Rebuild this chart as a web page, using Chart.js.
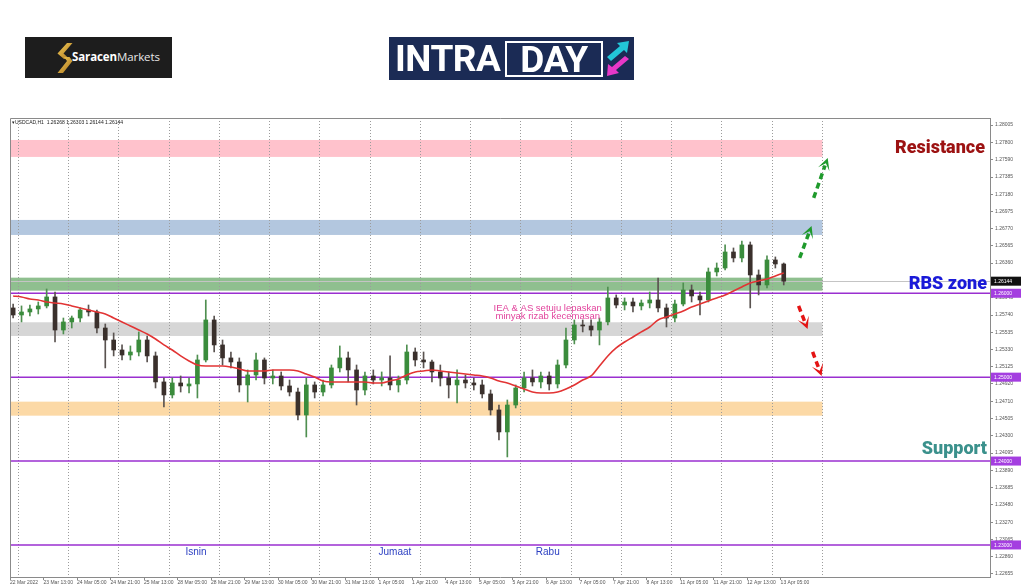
<!DOCTYPE html>
<html><head><meta charset="utf-8">
<script src="https://cdn.jsdelivr.net/npm/chart.js@4.4.0/dist/chart.umd.min.js"></script>
<style>
html,body{margin:0;padding:0;background:#fff;}
#wrap{position:relative;width:1024px;height:587px;overflow:hidden;}
#c{position:absolute;left:0;top:0;}
#saracen{position:absolute;left:25px;top:37px;width:147px;height:41px;background:#1d1d1d;}
#saracen .t{position:absolute;left:47px;top:12px;font:700 11.5px "Open Sans",sans-serif;color:#fff;letter-spacing:-0.1px;}
#saracen .t span{font-weight:400;color:#e8e8e8;}
#saracen svg{position:absolute;left:32px;top:6px;}
#intra{position:absolute;left:389px;top:37px;width:245px;height:43px;background:#1b2b55;}
#intra .a{position:absolute;left:6px;top:1px;font:700 37px Roboto,sans-serif;color:#fff;letter-spacing:-0.5px;line-height:41px;}
#intra .b{position:absolute;left:116px;top:4px;width:94px;height:32px;border:2px solid #fff;box-sizing:content-box;font:700 37px Roboto,sans-serif;color:#fff;line-height:33px;text-align:center;letter-spacing:-0.5px;}
#intra svg{position:absolute;left:215px;top:3px;}
</style></head><body>
<div id="wrap">
<canvas id="c" width="1024" height="587"></canvas>
<div id="saracen">
 <svg width="16" height="30" viewBox="0 0 16 30"><defs><linearGradient id="gg" x1="0" y1="0" x2="1" y2="1"><stop offset="0" stop-color="#f6cf5a"/><stop offset="1" stop-color="#a9731c"/></linearGradient></defs>
 <path d="M10 0 L15.5 0 L6.5 10.5 L12.5 16 L7 16 L0.5 10.5 Z" fill="url(#gg)"/>
 <path d="M7 14 L12.5 14 L15.5 18 L6 30 L0.5 30 L10 18 Z" fill="url(#gg)"/></svg>
 <div class="t">Saracen<span>Markets</span></div>
</div>
<div id="intra">
 <div class="a">INTRA</div>
 <div class="b">DAY</div>
 <svg width="28" height="38" viewBox="0 0 28 38">
  <path d="M3 17 L16 6 L13 3 L25 1 L23 13 L20 10 L7 21 Z" fill="#22c6d8"/>
  <path d="M25 19 L12 30 L15 33 L3 36 L4 24 L8 27 L21 16 Z" fill="#e838c8"/>
 </svg>
</div>
</div>
<script>
// ---------------- data ----------------
const xLabels = ['22 Mar 2022','23 Mar 13:00','24 Mar 05:00','24 Mar 21:00','25 Mar 13:00','28 Mar 05:00','28 Mar 21:00','29 Mar 13:00','30 Mar 05:00','30 Mar 21:00','31 Mar 13:00','1 Apr 05:00','1 Apr 21:00','4 Apr 13:00','5 Apr 05:00','5 Apr 21:00','6 Apr 13:00','7 Apr 05:00','7 Apr 21:00','8 Apr 13:00','11 Apr 05:00','11 Apr 21:00','12 Apr 13:00','13 Apr 05:00'];
const yTicks = [1.28005,1.27800,1.27590,1.27385,1.27180,1.26975,1.26770,1.26565,1.26360,1.26150,1.25945,1.25740,1.25535,1.25330,1.25125,1.24920,1.24710,1.24505,1.24300,1.24095,1.23890,1.23685,1.23480,1.23270,1.23065,1.22860,1.22655];

// 4-hour candles
const openP  = [1.25825,1.25741,1.25777,1.25813,1.25849,1.25956,1.25562,1.25658,1.25705,1.25801,1.25777,1.25586,1.25443,1.25324,1.25264,1.25300,1.25443,1.25253,1.24943,1.24788,1.24931,1.24895,1.24919,1.25205,1.25682,1.25384,1.25229,1.25181,1.24907,1.25026,1.25205,1.24990,1.25014,1.24895,1.24823,1.24549,1.24907,1.24823,1.24907,1.25110,1.25229,1.25086,1.24847,1.25014,1.24966,1.24990,1.24907,1.24966,1.25300,1.25205,1.25181,1.25062,1.24990,1.24907,1.24966,1.24931,1.24907,1.24800,1.24609,1.24347,1.24668,1.24871,1.24990,1.24943,1.25014,1.24919,1.25145,1.25443,1.25622,1.25610,1.25562,1.25658,1.25944,1.25860,1.25896,1.25849,1.25884,1.25920,1.25825,1.25705,1.25872,1.26039,1.25968,1.25920,1.26254,1.26301,1.26492,1.26421,1.26576,1.26218,1.26099,1.26397,1.26349];
const highP  = [1.25872,1.25849,1.25860,1.25896,1.26051,1.26015,1.25705,1.25729,1.25825,1.25860,1.25801,1.25634,1.25527,1.25384,1.25372,1.25539,1.25491,1.25300,1.24990,1.24990,1.25014,1.24990,1.25264,1.25920,1.25729,1.25443,1.25300,1.25229,1.25086,1.25288,1.25229,1.25086,1.25062,1.24966,1.24871,1.24990,1.24943,1.24966,1.25145,1.25372,1.25300,1.25145,1.25062,1.25086,1.25062,1.25253,1.25014,1.25384,1.25348,1.25300,1.25205,1.25145,1.25062,1.25086,1.25026,1.24990,1.24966,1.24847,1.24668,1.24728,1.24907,1.25062,1.25086,1.25062,1.25062,1.25205,1.25586,1.25682,1.25682,1.25682,1.25705,1.26075,1.25980,1.25944,1.25944,1.25920,1.26015,1.26182,1.25872,1.25920,1.26123,1.26099,1.26015,1.26301,1.26361,1.26576,1.26540,1.26623,1.26611,1.26278,1.26445,1.26433,1.26361];
const lowP   = [1.25705,1.25658,1.25729,1.25753,1.25825,1.25419,1.25515,1.25586,1.25658,1.25729,1.25527,1.25110,1.25253,1.25205,1.25205,1.25253,1.25181,1.24871,1.24645,1.24752,1.24823,1.24811,1.24752,1.25181,1.25300,1.25145,1.25110,1.24823,1.24704,1.24966,1.24919,1.24919,1.24847,1.24776,1.24490,1.24287,1.24752,1.24776,1.24871,1.25062,1.24943,1.24668,1.24788,1.24919,1.24895,1.24847,1.24823,1.24919,1.25133,1.25110,1.24943,1.24895,1.24752,1.24692,1.24871,1.24847,1.24752,1.24549,1.24251,1.24049,1.24633,1.24823,1.24895,1.24871,1.24847,1.24871,1.25110,1.25396,1.25539,1.25491,1.25384,1.25622,1.25825,1.25801,1.25777,1.25801,1.25825,1.25777,1.25598,1.25658,1.25849,1.25896,1.25741,1.25896,1.26206,1.26278,1.26373,1.26373,1.25825,1.25980,1.26063,1.26301,1.26099];
const closeP = [1.25741,1.25777,1.25813,1.25849,1.25956,1.25562,1.25658,1.25705,1.25801,1.25777,1.25586,1.25443,1.25324,1.25264,1.25300,1.25443,1.25253,1.24943,1.24788,1.24931,1.24895,1.24919,1.25205,1.25682,1.25384,1.25229,1.25181,1.24907,1.25026,1.25205,1.24990,1.25014,1.24895,1.24823,1.24549,1.24907,1.24823,1.24907,1.25110,1.25229,1.25086,1.24847,1.25014,1.24966,1.24990,1.24907,1.24966,1.25300,1.25205,1.25181,1.25062,1.24990,1.24907,1.24966,1.24931,1.24907,1.24800,1.24609,1.24347,1.24668,1.24871,1.24990,1.24943,1.25014,1.24919,1.25145,1.25443,1.25622,1.25610,1.25562,1.25658,1.25944,1.25860,1.25896,1.25849,1.25884,1.25920,1.25825,1.25705,1.25872,1.26039,1.25968,1.25920,1.26254,1.26301,1.26492,1.26421,1.26576,1.26218,1.26099,1.26397,1.26349,1.26144];
const maP    = [1.25968,1.25956,1.25932,1.25920,1.25896,1.25884,1.25872,1.25849,1.25825,1.25801,1.25777,1.25753,1.25705,1.25658,1.25610,1.25562,1.25515,1.25455,1.25384,1.25324,1.25253,1.25193,1.25145,1.25133,1.25133,1.25133,1.25121,1.25098,1.25074,1.25074,1.25074,1.25086,1.25086,1.25086,1.25074,1.25038,1.25002,1.24955,1.24943,1.24943,1.24943,1.24943,1.24943,1.24931,1.24931,1.24955,1.24979,1.25026,1.25062,1.25074,1.25086,1.25074,1.25062,1.25050,1.25038,1.25026,1.25014,1.24990,1.24955,1.24931,1.24895,1.24859,1.24823,1.24811,1.24811,1.24823,1.24859,1.24907,1.24966,1.25014,1.25133,1.25253,1.25348,1.25419,1.25479,1.25539,1.25598,1.25682,1.25717,1.25753,1.25789,1.25836,1.25872,1.25908,1.25944,1.25980,1.26027,1.26075,1.26123,1.26147,1.26170,1.26206,1.26242];

const bandHigh = [1.27827,1.26874,1.26186,1.25654,1.24708];
const bandLow  = [1.27625,1.26695,1.26031,1.25491,1.24541];
const levels = [1.26000,1.25000,1.24000,1.23000];
const currentPrice = 1.26144;
const headerText = 'USDCAD,H1  1.26268 1.26303 1.26144 1.26144';

// ---------------- styles / layout ----------------
const bandColors = ['#ffc2cc','#b3c7df','#8fbf8f','#d6d6d6','#fcd9a6'];
const BARS_PER_CANDLE = 4;          // H1 bars in each drawn candle
const LABEL_EVERY = 16;             // H1 bars between time labels
const FIRST_DAY_BAR = 4, BARS_PER_DAY = 24, DAYS = 17;
const X_MAX = 468, BAND_END = FIRST_DAY_BAR + BARS_PER_DAY*(DAYS-1);

const candleX = closeP.map((_, k) => k*BARS_PER_CANDLE + (BARS_PER_CANDLE-1)/2);
const xLabelIdx = xLabels.map((_, i) => i*LABEL_EVERY);
const dayGrid = Array.from({length: DAYS}, (_, j) => FIRST_DAY_BAR + j*BARS_PER_DAY);
const upCol = '#3a8c3c', dnCol = '#3a302c';
const bodyCols = closeP.map((c, k) => c >= openP[k] ? upCol : dnCol);
const wickCols = closeP.map((c, k) => c >= openP[k] ? '#4f8f50' : '#5a5350');

const tickFont = {family: 'Liberation Sans', size: 5};

function arrow(ctx, x0, y0, x1, y1, color) {
  const ang = Math.atan2(y1 - y0, x1 - x0), c = Math.cos(ang), s = Math.sin(ang);
  const hl = 10, hw = 6;
  const bx = x1 - hl*c, by = y1 - hl*s;
  ctx.save();
  ctx.strokeStyle = color; ctx.fillStyle = color; ctx.lineWidth = 3.5;
  ctx.setLineDash([6, 4]);
  ctx.beginPath(); ctx.moveTo(x0, y0); ctx.lineTo(bx + 2*c, by + 2*s); ctx.stroke();
  ctx.setLineDash([]);
  const nx = -s, ny = c;
  ctx.beginPath();
  ctx.moveTo(x1, y1);
  ctx.lineTo(bx + nx*hw - 2*c, by + ny*hw - 2*s);
  ctx.lineTo(x1 - 0.55*hl*c, y1 - 0.55*hl*s);
  ctx.lineTo(bx - nx*hw - 2*c, by - ny*hw - 2*s);
  ctx.closePath(); ctx.fill();
  ctx.restore();
}

const overlay = {
  id: 'overlay',
  beforeDraw(chart) {
    const {ctx, chartArea: a, scales: {x, y}} = chart;
    ctx.save();
    const xe = x.getPixelForValue(BAND_END);
    bandHigh.forEach((hi, i) => {
      const yt = y.getPixelForValue(hi), yb = y.getPixelForValue(bandLow[i]);
      ctx.fillStyle = bandColors[i];
      ctx.fillRect(a.left, yt, xe - a.left, yb - yt);
    });
    ctx.restore();
  },
  beforeDatasetsDraw(chart) {
    const {ctx, chartArea: a, scales: {y}} = chart;
    ctx.save();
    const yp = Math.round(y.getPixelForValue(currentPrice)) + 0.5;
    ctx.strokeStyle = '#c4c4c4'; ctx.lineWidth = 1;
    ctx.beginPath(); ctx.moveTo(a.left, yp); ctx.lineTo(a.right, yp); ctx.stroke();
    ctx.strokeStyle = '#9a2fd0'; ctx.lineWidth = 1.5;
    levels.forEach(v => {
      const yy = y.getPixelForValue(v);
      ctx.beginPath(); ctx.moveTo(a.left, yy); ctx.lineTo(a.right, yy); ctx.stroke();
    });
    ctx.restore();
  },
  afterDatasetsDraw(chart) {
    const {ctx, chartArea: a, scales: {x, y}} = chart;
    ctx.save();
    // frame
    ctx.strokeStyle = '#8a8a8a'; ctx.lineWidth = 1;
    ctx.beginPath(); ctx.moveTo(a.left + 0.5, a.bottom); ctx.lineTo(a.left + 0.5, a.top + 0.5); ctx.lineTo(a.right, a.top + 0.5); ctx.stroke();
    // header
    ctx.fillStyle = '#222'; ctx.font = '5px "Liberation Sans"'; ctx.textBaseline = 'middle'; ctx.textAlign = 'left';
    ctx.fillText('\u25BE' + headerText, a.left + 2, a.top + 5);
    // axis price boxes
    const box = (v, bg) => {
      const yy = y.getPixelForValue(v);
      ctx.fillStyle = bg; ctx.fillRect(a.right + 1, yy - 4.5, 30, 9);
      ctx.fillStyle = '#fff'; ctx.font = '5px "Liberation Sans"'; ctx.textAlign = 'left';
      ctx.fillText(v.toFixed(5), a.right + 4, yy + 0.5);
    };
    levels.forEach(v => box(v, '#a43ee0'));
    box(currentPrice, '#111');
    // arrows
    const P = (i, v) => [x.getPixelForValue(i), y.getPixelForValue(v)];
    const arr = (s, e, col) => { const [x0, y0] = P(...s), [x1, y1] = P(...e); arrow(ctx, x0, y0, x1, y1, col); };
    arr([383.8, 1.27136], [390.5, 1.27613], '#1f9a2c');
    arr([377.1, 1.26421], [382.8, 1.26802], '#1f9a2c');
    arr([376.6, 1.25849], [380.9, 1.25574], '#e41414');
    arr([383.3, 1.25300], [387.6, 1.25014], '#e41414');
    // zone labels
    ctx.textAlign = 'right'; ctx.textBaseline = 'middle';
    ctx.font = '900 18px Roboto';
    ctx.fillStyle = '#9c1212'; ctx.fillText('Resistance', a.right - 5, y.getPixelForValue((bandHigh[0] + bandLow[0]) / 2));
    ctx.fillStyle = '#1a1ad8'; ctx.fillText('RBS zone', a.right - 3, y.getPixelForValue((bandHigh[2] + bandLow[2]) / 2));
    ctx.fillStyle = '#3b918c'; ctx.fillText('Support', a.right - 3, y.getPixelForValue(1.24132));
    // day names
    ctx.textAlign = 'center'; ctx.font = '10px "Liberation Sans"'; ctx.fillStyle = '#2b3fc2';
    const yd = y.getPixelForValue(1.22916);
    ctx.fillText('Isnin', x.getPixelForValue(88.8), yd);
    ctx.fillText('Jumaat', x.getPixelForValue(183.8), yd);
    ctx.fillText('Rabu', x.getPixelForValue(256.8), yd);
    // news note
    ctx.font = '9.5px "Liberation Sans"'; ctx.fillStyle = '#e2439c';
    ctx.fillText('IEA & AS setuju lepaskan', x.getPixelForValue(256.8), y.getPixelForValue(1.25820));
    ctx.fillText('minyak rizab kecemasan', x.getPixelForValue(256.8), y.getPixelForValue(1.25720));
    ctx.restore();
  }
};

new Chart(document.getElementById('c'), {
  type: 'bar',
  data: {
    datasets: [
      {type: 'line', label: 'MA', data: maP.map((v, k) => ({x: candleX[k], y: v})),
       borderColor: '#e23434', borderWidth: 1.6, pointRadius: 0, tension: 0.4, cubicInterpolationMode: 'monotone', order: 0},
      {type: 'bar', label: 'body', data: closeP.map((c, k) => ({x: candleX[k], y: [openP[k], c]})),
       backgroundColor: bodyCols, barThickness: 4, minBarLength: 1, grouped: false, borderWidth: 0, order: 1},
      {type: 'bar', label: 'wick', data: closeP.map((c, k) => ({x: candleX[k], y: [lowP[k], highP[k]]})),
       backgroundColor: wickCols, barThickness: 1, grouped: false, borderWidth: 0, order: 2}
    ]
  },
  options: {
    responsive: false, animation: false, devicePixelRatio: 1, events: [],
    layout: {padding: {left: 10, top: 118, right: 0, bottom: 0}, autoPadding: false},
    plugins: {legend: {display: false}, tooltip: {enabled: false}},
    scales: {
      x: {
        type: 'linear', min: 0, max: X_MAX, offset: false, position: 'bottom',
        grid: {display: true, offset: false, drawOnChartArea: false, drawTicks: true, tickLength: 3, color: '#8a8a8a'},
        border: {display: true, color: '#8a8a8a'},
        ticks: {autoSkip: false, maxRotation: 0, minRotation: 0, align: 'start', padding: 0, color: '#555', font: tickFont,
                callback: v => { const i = xLabelIdx.indexOf(v); return i >= 0 ? xLabels[i] : ''; }},
        afterBuildTicks: s => { s.ticks = xLabelIdx.map(v => ({value: v})); },
        afterFit: s => { s.height = 10; }
      },
      xg: {
        type: 'linear', min: 0, max: X_MAX, offset: false, position: 'bottom', display: true,
        grid: {display: true, offset: false, drawTicks: false, color: '#9c9c9c', lineWidth: 1},
        border: {display: false, dash: [1, 2]},
        ticks: {display: false},
        afterBuildTicks: s => { s.ticks = dayGrid.map(v => ({value: v})); },
        afterFit: s => { s.height = 0; }
      },
      y: {
        type: 'linear', position: 'right', min: 1.22618, max: 1.28089, beginAtZero: false,
        grid: {display: true, drawOnChartArea: false, drawTicks: true, tickLength: 3, color: '#8a8a8a'},
        border: {display: true, color: '#8a8a8a'},
        ticks: {color: '#555', font: tickFont, padding: 2, callback: v => Number(v).toFixed(5)},
        afterBuildTicks: s => { s.ticks = yTicks.map(v => ({value: v})); },
        afterFit: s => { s.width = 34; }
      }
    }
  },
  plugins: [overlay]
});
</script>
</body></html>
